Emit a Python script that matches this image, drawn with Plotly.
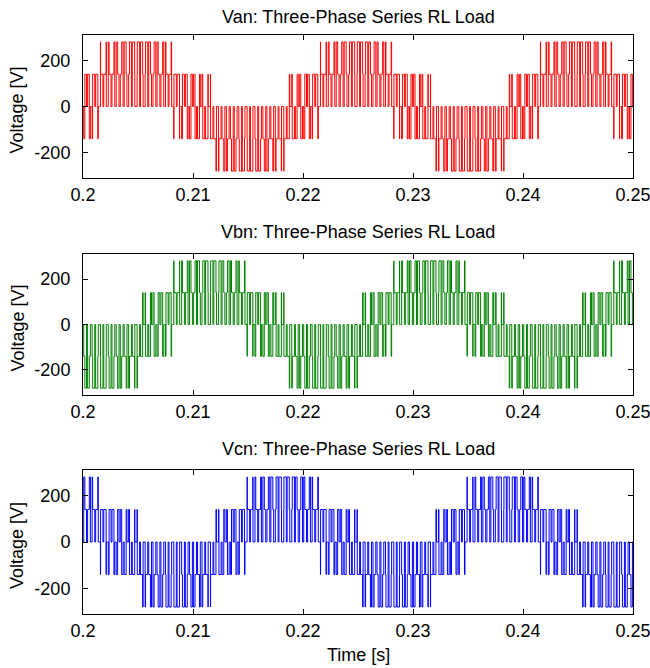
import numpy as np
import plotly.graph_objects as go

# ---- data ----
t_start, t_end = 0.2, 0.25
f_carrier = 1350.0          # carrier (switching) frequency, Hz  (~0.74 ms between pulses)
level = 140.0               # Vdc/3 step  -> levels 0, +/-140, +/-280
mod_index = 0.8
# leg-a reference sampled once per carrier period over one 50 Hz cycle (27 periods)
ref_a = [0.12, 0.34, 0.55, 0.73, 0.87, 0.96, 1.00, 0.98, 0.92, 0.80, 0.64, 0.45, 0.23, 0.00,
         -0.23, -0.45, -0.64, -0.80, -0.92, -0.98, -1.00, -0.96, -0.87, -0.73, -0.55, -0.34, -0.12]
phase_shift = 9             # 120 degrees = 9 carrier periods
titles = ["Van: Three-Phase Series RL Load", "Vbn: Three-Phase Series RL Load",
          "Vcn: Three-Phase Series RL Load"]
colors = ["#ff0000", "#008000", "#0000ff"]
x_ticks = [0.2, 0.21, 0.22, 0.23, 0.24, 0.25]
x_tick_text = ["0.2", "0.21", "0.22", "0.23", "0.24", "0.25"]
y_ticks = [-200, 0, 200]
y_tick_text = ["-200", "0", "200"]

# ---- build the switched phase voltages ----
refs = [np.array(ref_a),
        np.roll(ref_a, phase_shift),     # leg b lags 120 deg
        np.roll(ref_a, -phase_shift)]    # leg c leads 120 deg
T = 1.0 / f_carrier
n_per = int(np.ceil((t_end - t_start) / T))

def phase_wave(p):
    xs, ys = [], []
    for k in range(n_per):
        c = t_start + (k + 0.5) * T
        wins = []
        for r in refs:
            d = (1 + mod_index * r[k % len(ref_a)]) / 2
            wins.append((c - d * T / 2, c + d * T / 2))
        edges = sorted({t_start + k * T} | {w for pair in wins for w in pair})
        edges.append(t_start + (k + 1) * T)
        for a, b in zip(edges[:-1], edges[1:]):
            if b - a <= 0:
                continue
            m = 0.5 * (a + b)
            s = [1 if w0 <= m <= w1 else 0 for (w0, w1) in wins]
            v = level * (3 * s[p] - sum(s))
            if a >= t_end:
                continue
            xs.append(a)
            ys.append(v)
    xs.append(t_end)
    ys.append(ys[-1])
    return xs, ys

fig = go.Figure()
H_top, H_bot = 35, 54
tot = 668 - H_top - H_bot
panels_px = [(35, 178), (254, 395), (470, 614)]
title_px = [17, 232, 449]

def py(y):
    return 1 - (y - H_top) / tot

font = "Liberation Sans, Arial, sans-serif"
fs = 18
for i in range(3):
    xs, ys = phase_wave(i)
    ax = "" if i == 0 else str(i + 1)
    fig.add_trace(go.Scatter(x=xs, y=ys, mode="lines", line=dict(color=colors[i], width=1, shape="hv"),
                             xaxis="x" + ax, yaxis="y" + ax, showlegend=False, hoverinfo="skip"))
    top, bot = panels_px[i]
    common = dict(showline=True, linecolor="black", linewidth=1, mirror="ticks", ticks="inside",
                  ticklen=5, tickcolor="black", showgrid=False, zeroline=False,
                  ticklabeloverflow="allow", automargin=False,
                  tickfont=dict(family=font, size=fs, color="black"))
    fig.layout["xaxis" + ax] = dict(domain=[0, 1], range=[t_start - 1e-7, t_end + 1e-7], tickvals=x_ticks,
                                    ticktext=x_tick_text, anchor="y" + ax, ticklabelstandoff=0, **common)
    fig.layout["yaxis" + ax] = dict(domain=[py(bot), py(top)], range=[-310, 310], tickvals=y_ticks,
                                    ticktext=y_tick_text, anchor="x" + ax, ticklabelstandoff=8, **common)
    fig.add_annotation(text=titles[i], x=0.5, y=py(title_px[i]), xref="paper", yref="paper",
                       showarrow=False, xanchor="center", yanchor="middle",
                       font=dict(family=font, size=fs, color="black"))
    fig.add_annotation(text="Voltage [V]", x=(17 - 83) / 550, y=py((top + bot) / 2 + 4), xref="paper",
                       yref="paper", showarrow=False, textangle=-90, xanchor="center", yanchor="middle",
                       font=dict(family=font, size=fs, color="black"))

fig.add_annotation(text="Time [s]", x=0.5, y=py(655), xref="paper", yref="paper", showarrow=False,
                   xanchor="center", yanchor="middle", font=dict(family=font, size=fs, color="black"))

fig.update_layout(width=650, height=668, margin=dict(l=83, r=17, t=H_top, b=H_bot, autoexpand=False),
                  plot_bgcolor="white", paper_bgcolor="white")
fig.write_html("out.html")
